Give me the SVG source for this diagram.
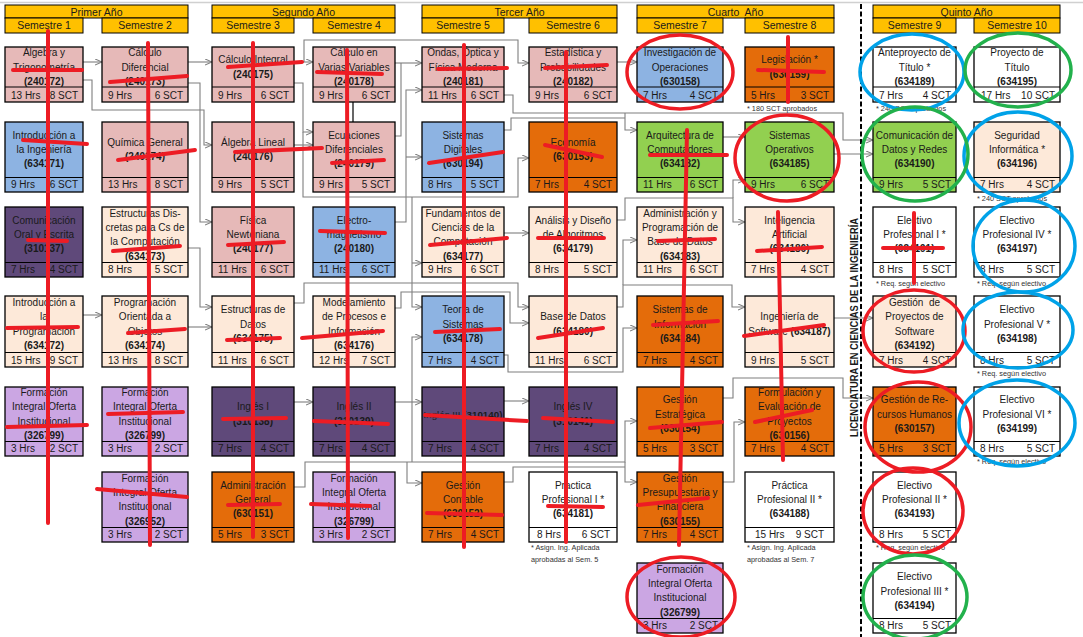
<svg xmlns="http://www.w3.org/2000/svg" width="1083" height="637" viewBox="0 0 1083 637">
<style>
.bx{stroke:#000;stroke-width:1.3}
.pk{fill:#E6B9B8}.bl{fill:#8DB3E2}.dp{fill:#5F497A}.pe{fill:#FDE9D9}.li{fill:#CBA6E3}.or{fill:#E46C0A}.gr{fill:#92D050}.wh{fill:#FFFFFF}
.sp{stroke:#000;stroke-width:1.1}
text{font-family:"Liberation Sans",Arial,sans-serif;fill:#1a1a1a}
.t{font-size:10px;text-anchor:middle}
.k{font-weight:bold}
.f{font-size:10px}
.r{text-anchor:end}
.n{font-size:7.3px;fill:#333}
.h{font-size:10.5px;text-anchor:middle}
.hd{fill:#FFC000;stroke:#000;stroke-width:1}
.c{fill:none;stroke:#7F7F7F;stroke-width:1.1}
.rs{fill:none;stroke:#ED1C24;stroke-width:4;stroke-linecap:round}
.er{fill:none;stroke:#ED1C24;stroke-width:3.5}
.eb{fill:none;stroke:#00A2E8;stroke-width:3.5}
.eg{fill:none;stroke:#22B14C;stroke-width:3.5}
</style>
<defs>
<marker id="ar" viewBox="0 0 8 8" refX="8" refY="4" markerWidth="7" markerHeight="7" markerUnits="userSpaceOnUse" orient="auto"><path d="M0,0.5 L8,4 L0,7.5" fill="none" stroke="#7F7F7F" stroke-width="1.2"/></marker>
</defs>
<rect x="0" y="0" width="1083" height="637" fill="#fff"/>
<line x1="0" y1="2.5" x2="1083" y2="2.5" stroke="#d0d0d0" stroke-width="1.5"/>

<g id="headers">
<rect class="hd" x="5" y="5" width="183" height="13"/><text class="h" x="96.5" y="15.5">Primer Año</text>
<rect class="hd" x="5" y="18" width="78" height="15"/><text class="h" x="44" y="29.3">Semestre 1</text>
<rect class="hd" x="102" y="18" width="86" height="15"/><text class="h" x="145" y="29.3">Semestre 2</text>
<rect class="hd" x="212" y="5" width="183" height="13"/><text class="h" x="303.5" y="15.5">Segundo Año</text>
<rect class="hd" x="212" y="18" width="82" height="15"/><text class="h" x="253" y="29.3">Semestre 3</text>
<rect class="hd" x="313" y="18" width="82" height="15"/><text class="h" x="354" y="29.3">Semestre 4</text>
<rect class="hd" x="422" y="5" width="195" height="13"/><text class="h" x="519.5" y="15.5">Tercer Año</text>
<rect class="hd" x="422" y="18" width="82" height="15"/><text class="h" x="463" y="29.3">Semestre 5</text>
<rect class="hd" x="529" y="18" width="88" height="15"/><text class="h" x="573" y="29.3">Semestre 6</text>
<rect class="hd" x="637" y="5" width="197" height="13"/><text class="h" x="735.5" y="15.5" xml:space="preserve">Cuarto  Año</text>
<rect class="hd" x="637" y="18" width="86" height="15"/><text class="h" x="680" y="29.3">Semestre 7</text>
<rect class="hd" x="745" y="18" width="89" height="15"/><text class="h" x="789.5" y="29.3">Semestre 8</text>
<rect class="hd" x="873" y="5" width="187" height="13"/><text class="h" x="966.5" y="15.5">Quinto Año</text>
<rect class="hd" x="873" y="18" width="83" height="15"/><text class="h" x="914.5" y="29.3">Semestre 9</text>
<rect class="hd" x="974" y="18" width="86" height="15"/><text class="h" x="1017" y="29.3">Semestre 10</text>
</g>

<g id="connectors">
<path class="c" marker-end="url(#ar)" d="M83,62 H102"/>
<path class="c" marker-end="url(#ar)" d="M83,80 H92 V110 H204 V145 H212"/>
<path class="c" marker-end="url(#ar)" d="M188,62 H212"/>
<path class="c" marker-end="url(#ar)" d="M188,83 H200 V222 H212"/>
<path class="c" marker-end="url(#ar)" d="M188,248 H200 V307 H212"/>
<path class="c" marker-end="url(#ar)" d="M188,327 H212"/>
<path class="c" marker-end="url(#ar)" d="M83,315 H102"/>
<path class="c" marker-end="url(#ar)" d="M294,62 H313"/>
<path class="c" marker-end="url(#ar)" d="M304,62 V40 H518 V63 H529"/>
<path class="c" marker-end="url(#ar)" d="M294,83 H303 V132 H313"/>
<path class="c" marker-end="url(#ar)" d="M294,145 H313"/>
<path class="c" marker-end="url(#ar)" d="M303,132 V197 H518 V158 H529"/>
<path class="c" marker-end="url(#ar)" d="M412,197 V307 H422"/>
<path class="c" marker-end="url(#ar)" d="M412,263 H422"/>
<path class="c" marker-end="url(#ar)" d="M395,63 H422"/>
<path class="c" d="M395,136 H401 V63"/>
<path class="c" marker-end="url(#ar)" d="M395,222 H406 V90 H422"/>
<path class="c" marker-end="url(#ar)" d="M406,157 H422"/>
<path class="c" marker-end="url(#ar)" d="M294,303 H304 V283 H518 V307 H529"/>
<path class="c" marker-end="url(#ar)" d="M395,308 H401 V292 H510 V323 H529"/>
<path class="c" marker-end="url(#ar)" d="M294,402 H313"/>
<path class="c" marker-end="url(#ar)" d="M395,402 H422"/>
<path class="c" marker-end="url(#ar)" d="M504,401 H529"/>
<path class="c" marker-end="url(#ar)" d="M294,487 H305 V462 H625 V421 H637"/>
<path class="c" marker-end="url(#ar)" d="M407,462 V483 H422"/>
<path class="c" marker-end="url(#ar)" d="M412,462 V337 H422"/>
<path class="c" marker-end="url(#ar)" d="M625,462 V482 H637"/>
<path class="c" d="M504,482 H513 V467 H625"/>
<path class="c" marker-end="url(#ar)" d="M504,233 H529"/>
<path class="c" marker-end="url(#ar)" d="M504,95 H513 V113 H843 V140 H873"/>
<path class="c" marker-end="url(#ar)" d="M625,113 V130 H637"/>
<path class="c" d="M504,130 H511 V118 H625"/>
<path class="c" marker-end="url(#ar)" d="M617,62 H637"/>
<path class="c" marker-end="url(#ar)" d="M617,220 H625 V198 H733 V222 H745"/>
<path class="c" marker-end="url(#ar)" d="M733,198 V180 H745"/>
<path class="c" marker-end="url(#ar)" d="M723,137 H745"/>
<path class="c" marker-end="url(#ar)" d="M617,307 H623 V285 H732 V307 H745"/>
<path class="c" marker-end="url(#ar)" d="M623,285 V240 H637"/>
<path class="c" marker-end="url(#ar)" d="M504,355 H508 V372 H623 V328 H637"/>
<path class="c" marker-end="url(#ar)" d="M834,318 H873"/>
<path class="c" marker-end="url(#ar)" d="M723,398 H733 V378 H843 V398 H873"/>
<path class="c" marker-end="url(#ar)" d="M723,482 H734 V422 H745"/>
<path class="c" marker-end="url(#ar)" d="M834,154 H873"/>
<path d="M353,102 V122" stroke="#000" stroke-width="1.2"/>
</g>

<!-- Semestre 1 -->
<g id="n-240172"><rect class="bx pk" x="5" y="47" width="78" height="55"/><line class="sp" x1="5" y1="87" x2="83" y2="87"/><text class="t"><tspan x="44" y="56.3">Álgebra y</tspan><tspan x="44" y="70.6">Trigonometría</tspan><tspan x="44" y="84.9" class="k">(240172)</tspan></text><text class="f" x="11" y="98.6">13 Hrs</text><text class="f r" x="78" y="98.6">8 SCT</text></g>
<g id="n-634171"><rect class="bx bl" x="5" y="122" width="78" height="70"/><line class="sp" x1="5" y1="177.5" x2="83" y2="177.5"/><text class="t"><tspan x="44" y="138.8">Introducción a</tspan><tspan x="44" y="153.1">la Ingeniería</tspan><tspan x="44" y="167.4" class="k">(634171)</tspan></text><text class="f" x="11" y="188.3">9 Hrs</text><text class="f r" x="78" y="188.3">6 SCT</text></g>
<g id="n-310137"><rect class="bx dp" x="5" y="207" width="78" height="70"/><line class="sp" x1="5" y1="262.5" x2="83" y2="262.5"/><text class="t"><tspan x="44" y="223.8">Comunicación</tspan><tspan x="44" y="238.1">Oral y Escrita</tspan><tspan x="44" y="252.4" class="k">(310137)</tspan></text><text class="f" x="11" y="273.3">7 Hrs</text><text class="f r" x="78" y="273.3">4 SCT</text></g>
<g id="n-634172"><rect class="bx pe" x="5" y="296" width="78" height="71"/><line class="sp" x1="5" y1="352.5" x2="83" y2="352.5"/><text class="t"><tspan x="44" y="306.15">Introducción a</tspan><tspan x="44" y="320.45">la</tspan><tspan x="44" y="334.75">Programación</tspan><tspan x="44" y="349.05" class="k">(634172)</tspan></text><text class="f" x="11" y="363.6">15 Hrs</text><text class="f r" x="78" y="363.6">9 SCT</text></g>
<g id="n-326799-s1"><rect class="bx li" x="5" y="387" width="78" height="69"/><line class="sp" x1="5" y1="441.5" x2="83" y2="441.5"/><text class="t"><tspan x="44" y="396.15">Formación</tspan><tspan x="44" y="410.45">Integral Oferta</tspan><tspan x="44" y="424.75">Institucional</tspan><tspan x="44" y="439.05" class="k">(326799)</tspan></text><text class="f" x="11" y="452.3">3 Hrs</text><text class="f r" x="78" y="452.3">2 SCT</text></g>

<!-- Semestre 2 -->
<g id="n-240173"><rect class="bx pk" x="102" y="47" width="86" height="55"/><line class="sp" x1="102" y1="87" x2="188" y2="87"/><text class="t"><tspan x="145" y="56.3">Cálculo</tspan><tspan x="145" y="70.6">Diferencial</tspan><tspan x="145" y="84.9" class="k">(240173)</tspan></text><text class="f" x="108" y="98.6">9 Hrs</text><text class="f r" x="183" y="98.6">6 SCT</text></g>
<g id="n-240174"><rect class="bx pk" x="102" y="122" width="86" height="70"/><line class="sp" x1="102" y1="177.5" x2="188" y2="177.5"/><text class="t"><tspan x="145" y="145.95">Química General</tspan><tspan x="145" y="160.25" class="k">(240174)</tspan></text><text class="f" x="108" y="188.3">13 Hrs</text><text class="f r" x="183" y="188.3">8 SCT</text></g>
<g id="n-634173"><rect class="bx pe" x="102" y="207" width="86" height="70"/><line class="sp" x1="102" y1="262.5" x2="188" y2="262.5"/><text class="t"><tspan x="145" y="216.65">Estructuras Dis-</tspan><tspan x="145" y="230.95">cretas para Cs de</tspan><tspan x="145" y="245.25">la Computación</tspan><tspan x="145" y="259.55" class="k">(634173)</tspan></text><text class="f" x="108" y="273.3">8 Hrs</text><text class="f r" x="183" y="273.3">5 SCT</text></g>
<g id="n-634174"><rect class="bx pe" x="102" y="296" width="86" height="71"/><line class="sp" x1="102" y1="352.5" x2="188" y2="352.5"/><text class="t"><tspan x="145" y="306.15">Programación</tspan><tspan x="145" y="320.45">Orientada a</tspan><tspan x="145" y="334.75">Objetos</tspan><tspan x="145" y="349.05" class="k">(634174)</tspan></text><text class="f" x="108" y="363.6">13 Hrs</text><text class="f r" x="183" y="363.6">8 SCT</text></g>
<g id="n-326799-s2"><rect class="bx li" x="102" y="387" width="86" height="69"/><line class="sp" x1="102" y1="441.5" x2="188" y2="441.5"/><text class="t"><tspan x="145" y="396.15">Formación</tspan><tspan x="145" y="410.45">Integral Oferta</tspan><tspan x="145" y="424.75">Institucional</tspan><tspan x="145" y="439.05" class="k">(326799)</tspan></text><text class="f" x="108" y="452.3">3 Hrs</text><text class="f r" x="183" y="452.3">2 SCT</text></g>
<g id="n-326952"><rect class="bx li" x="102" y="472" width="86" height="70"/><line class="sp" x1="102" y1="527.5" x2="188" y2="527.5"/><text class="t"><tspan x="145" y="481.65">Formación</tspan><tspan x="145" y="495.95">Integral Oferta</tspan><tspan x="145" y="510.25">Institucional</tspan><tspan x="145" y="524.55" class="k">(326952)</tspan></text><text class="f" x="108" y="538.3">3 Hrs</text><text class="f r" x="183" y="538.3">2 SCT</text></g>

<!-- Semestre 3 -->
<g id="n-240175"><rect class="bx pk" x="212" y="47" width="82" height="55"/><line class="sp" x1="212" y1="87" x2="294" y2="87"/><text class="t"><tspan x="253" y="63.45">Cálculo Integral</tspan><tspan x="253" y="77.75" class="k">(240175)</tspan></text><text class="f" x="218" y="98.6">9 Hrs</text><text class="f r" x="289" y="98.6">6 SCT</text></g>
<g id="n-240176"><rect class="bx pk" x="212" y="122" width="82" height="70"/><line class="sp" x1="212" y1="177.5" x2="294" y2="177.5"/><text class="t"><tspan x="253" y="145.95">Álgebra Lineal</tspan><tspan x="253" y="160.25" class="k">(240176)</tspan></text><text class="f" x="218" y="188.3">9 Hrs</text><text class="f r" x="289" y="188.3">5 SCT</text></g>
<g id="n-240177"><rect class="bx pk" x="212" y="207" width="82" height="70"/><line class="sp" x1="212" y1="262.5" x2="294" y2="262.5"/><text class="t"><tspan x="253" y="223.8">Física</tspan><tspan x="253" y="238.1">Newtoniana</tspan><tspan x="253" y="252.4" class="k">(240177)</tspan></text><text class="f" x="218" y="273.3">11 Hrs</text><text class="f r" x="289" y="273.3">6 SCT</text></g>
<g id="n-634175"><rect class="bx pe" x="212" y="296" width="82" height="71"/><line class="sp" x1="212" y1="352.5" x2="294" y2="352.5"/><text class="t"><tspan x="253" y="313.3">Estructuras de</tspan><tspan x="253" y="327.6">Datos</tspan><tspan x="253" y="341.9" class="k">(634175)</tspan></text><text class="f" x="218" y="363.6">11 Hrs</text><text class="f r" x="289" y="363.6">6 SCT</text></g>
<g id="n-310138"><rect class="bx dp" x="212" y="387" width="82" height="69"/><line class="sp" x1="212" y1="441.5" x2="294" y2="441.5"/><text class="t"><tspan x="253" y="410.45">Inglés I</tspan><tspan x="253" y="424.75" class="k">(310138)</tspan></text><text class="f" x="218" y="452.3">7 Hrs</text><text class="f r" x="289" y="452.3">4 SCT</text></g>
<g id="n-630151"><rect class="bx or" x="212" y="472" width="82" height="70"/><line class="sp" x1="212" y1="527.5" x2="294" y2="527.5"/><text class="t"><tspan x="253" y="488.8">Administración</tspan><tspan x="253" y="503.1">General</tspan><tspan x="253" y="517.4" class="k">(630151)</tspan></text><text class="f" x="218" y="538.3">5 Hrs</text><text class="f r" x="289" y="538.3">3 SCT</text></g>

<!-- Semestre 4 -->
<g id="n-240178"><rect class="bx pk" x="313" y="47" width="82" height="55"/><line class="sp" x1="313" y1="87" x2="395" y2="87"/><text class="t"><tspan x="354" y="56.3">Cálculo en</tspan><tspan x="354" y="70.6">Varias Variables</tspan><tspan x="354" y="84.9" class="k">(240178)</tspan></text><text class="f" x="319" y="98.6">9 Hrs</text><text class="f r" x="390" y="98.6">6 SCT</text></g>
<g id="n-240179"><rect class="bx pk" x="313" y="122" width="82" height="70"/><line class="sp" x1="313" y1="177.5" x2="395" y2="177.5"/><text class="t"><tspan x="354" y="138.8">Ecuaciones</tspan><tspan x="354" y="153.1">Diferenciales</tspan><tspan x="354" y="167.4" class="k">(240179)</tspan></text><text class="f" x="319" y="188.3">9 Hrs</text><text class="f r" x="390" y="188.3">5 SCT</text></g>
<g id="n-240180"><rect class="bx bl" x="313" y="207" width="82" height="70"/><line class="sp" x1="313" y1="262.5" x2="395" y2="262.5"/><text class="t"><tspan x="354" y="223.8">Electro-</tspan><tspan x="354" y="238.1">magnetismo</tspan><tspan x="354" y="252.4" class="k">(240180)</tspan></text><text class="f" x="319" y="273.3">11 Hrs</text><text class="f r" x="390" y="273.3">6 SCT</text></g>
<g id="n-634176"><rect class="bx pe" x="313" y="296" width="82" height="71"/><line class="sp" x1="313" y1="352.5" x2="395" y2="352.5"/><text class="t"><tspan x="354" y="306.15">Modelamiento</tspan><tspan x="354" y="320.45">de Procesos e</tspan><tspan x="354" y="334.75">Información</tspan><tspan x="354" y="349.05" class="k">(634176)</tspan></text><text class="f" x="319" y="363.6">12 Hrs</text><text class="f r" x="390" y="363.6">7 SCT</text></g>
<g id="n-310139"><rect class="bx dp" x="313" y="387" width="82" height="69"/><line class="sp" x1="313" y1="441.5" x2="395" y2="441.5"/><text class="t"><tspan x="354" y="410.45">Inglés II</tspan><tspan x="354" y="424.75" class="k">(310139)</tspan></text><text class="f" x="319" y="452.3">7 Hrs</text><text class="f r" x="390" y="452.3">4 SCT</text></g>
<g id="n-326799-s4"><rect class="bx li" x="313" y="472" width="82" height="70"/><line class="sp" x1="313" y1="527.5" x2="395" y2="527.5"/><text class="t"><tspan x="354" y="481.65">Formación</tspan><tspan x="354" y="495.95">Integral Oferta</tspan><tspan x="354" y="510.25">Institucional</tspan><tspan x="354" y="524.55" class="k">(326799)</tspan></text><text class="f" x="319" y="538.3">3 Hrs</text><text class="f r" x="390" y="538.3">2 SCT</text></g>

<!-- Semestre 5 -->
<g id="n-240181"><rect class="bx pk" x="422" y="47" width="82" height="55"/><line class="sp" x1="422" y1="87" x2="504" y2="87"/><text class="t"><tspan x="463" y="56.3">Ondas, Óptica y</tspan><tspan x="463" y="70.6">Física Moderna</tspan><tspan x="463" y="84.9" class="k">(240181)</tspan></text><text class="f" x="428" y="98.6">11 Hrs</text><text class="f r" x="499" y="98.6">6 SCT</text></g>
<g id="n-630194"><rect class="bx bl" x="422" y="122" width="82" height="70"/><line class="sp" x1="422" y1="177.5" x2="504" y2="177.5"/><text class="t"><tspan x="463" y="138.8">Sistemas</tspan><tspan x="463" y="153.1">Digitales</tspan><tspan x="463" y="167.4" class="k">(630194)</tspan></text><text class="f" x="428" y="188.3">8 Hrs</text><text class="f r" x="499" y="188.3">5 SCT</text></g>
<g id="n-634177"><rect class="bx pe" x="422" y="207" width="82" height="70"/><line class="sp" x1="422" y1="262.5" x2="504" y2="262.5"/><text class="t"><tspan x="463" y="216.65">Fundamentos de</tspan><tspan x="463" y="230.95">Ciencias de la</tspan><tspan x="463" y="245.25">Computación</tspan><tspan x="463" y="259.55" class="k">(634177)</tspan></text><text class="f" x="428" y="273.3">9 Hrs</text><text class="f r" x="499" y="273.3">6 SCT</text></g>
<g id="n-634178"><rect class="bx bl" x="422" y="296" width="82" height="71"/><line class="sp" x1="422" y1="352.5" x2="504" y2="352.5"/><text class="t"><tspan x="463" y="313.3">Teoría de</tspan><tspan x="463" y="327.6">Sistemas</tspan><tspan x="463" y="341.9" class="k">(634178)</tspan></text><text class="f" x="428" y="363.6">7 Hrs</text><text class="f r" x="499" y="363.6">4 SCT</text></g>
<g id="n-310140"><rect class="bx dp" x="422" y="387" width="82" height="69"/><line class="sp" x1="422" y1="441.5" x2="504" y2="441.5"/><text class="t" x="463" y="417.6" style="font-size:9.8px">Inglés III <tspan class="k">(310140)</tspan></text><text class="f" x="428" y="452.3">7 Hrs</text><text class="f r" x="499" y="452.3">4 SCT</text></g>
<g id="n-630152"><rect class="bx or" x="422" y="472" width="82" height="70"/><line class="sp" x1="422" y1="527.5" x2="504" y2="527.5"/><text class="t"><tspan x="463" y="488.8">Gestión</tspan><tspan x="463" y="503.1">Contable</tspan><tspan x="463" y="517.4" class="k">(630152)</tspan></text><text class="f" x="428" y="538.3">7 Hrs</text><text class="f r" x="499" y="538.3">4 SCT</text></g>

<!-- Semestre 6 -->
<g id="n-240182"><rect class="bx pk" x="529" y="47" width="88" height="55"/><line class="sp" x1="529" y1="87" x2="617" y2="87"/><text class="t"><tspan x="573" y="56.3">Estadística y</tspan><tspan x="573" y="70.6">Probabilidades</tspan><tspan x="573" y="84.9" class="k">(240182)</tspan></text><text class="f" x="535" y="98.6">9 Hrs</text><text class="f r" x="612" y="98.6">6 SCT</text></g>
<g id="n-630153"><rect class="bx or" x="529" y="122" width="88" height="70"/><line class="sp" x1="529" y1="177.5" x2="617" y2="177.5"/><text class="t"><tspan x="573" y="145.95">Economía</tspan><tspan x="573" y="160.25" class="k">(630153)</tspan></text><text class="f" x="535" y="188.3">7 Hrs</text><text class="f r" x="612" y="188.3">4 SCT</text></g>
<g id="n-634179"><rect class="bx pe" x="529" y="207" width="88" height="70"/><line class="sp" x1="529" y1="262.5" x2="617" y2="262.5"/><text class="t"><tspan x="573" y="223.8">Análisis y Diseño</tspan><tspan x="573" y="238.1">de Algoritmos</tspan><tspan x="573" y="252.4" class="k">(634179)</tspan></text><text class="f" x="535" y="273.3">8 Hrs</text><text class="f r" x="612" y="273.3">5 SCT</text></g>
<g id="n-634180"><rect class="bx pe" x="529" y="296" width="88" height="71"/><line class="sp" x1="529" y1="352.5" x2="617" y2="352.5"/><text class="t"><tspan x="573" y="320.45">Base de Datos</tspan><tspan x="573" y="334.75" class="k">(634180)</tspan></text><text class="f" x="535" y="363.6">11 Hrs</text><text class="f r" x="612" y="363.6">6 SCT</text></g>
<g id="n-310141"><rect class="bx dp" x="529" y="387" width="88" height="69"/><line class="sp" x1="529" y1="441.5" x2="617" y2="441.5"/><text class="t"><tspan x="573" y="410.45">Inglés IV</tspan><tspan x="573" y="424.75" class="k">(310141)</tspan></text><text class="f" x="535" y="452.3">7 Hrs</text><text class="f r" x="612" y="452.3">4 SCT</text></g>
<g id="n-634181"><rect class="bx wh" x="529" y="472" width="88" height="70"/><line class="sp" x1="529" y1="527.5" x2="617" y2="527.5"/><text class="t"><tspan x="573" y="488.8">Practica</tspan><tspan x="573" y="503.1">Profesional I *</tspan><tspan x="573" y="517.4" class="k">(634181)</tspan></text><text class="f" x="537" y="538.3">8 Hrs</text><text class="f r" x="610" y="538.3">6 SCT</text><text class="n" x="531" y="549.8">* Asign. Ing. Aplicada</text><text class="n" x="531" y="562">aprobadas al Sem. 5</text></g>

<!-- Semestre 7 -->
<g id="n-630158"><rect class="bx bl" x="637" y="47" width="86" height="55"/><line class="sp" x1="637" y1="87" x2="723" y2="87"/><text class="t"><tspan x="680" y="56.3">Investigación de</tspan><tspan x="680" y="70.6">Operaciones</tspan><tspan x="680" y="84.9" class="k">(630158)</tspan></text><text class="f" x="643" y="98.6">7 Hrs</text><text class="f r" x="718" y="98.6">4 SCT</text></g>
<g id="n-634182"><rect class="bx gr" x="637" y="122" width="86" height="70"/><line class="sp" x1="637" y1="177.5" x2="723" y2="177.5"/><text class="t"><tspan x="680" y="138.8">Arquitectura de</tspan><tspan x="680" y="153.1">Computadores</tspan><tspan x="680" y="167.4" class="k">(634182)</tspan></text><text class="f" x="643" y="188.3">11 Hrs</text><text class="f r" x="718" y="188.3">6 SCT</text></g>
<g id="n-634183"><rect class="bx pe" x="637" y="207" width="86" height="70"/><line class="sp" x1="637" y1="262.5" x2="723" y2="262.5"/><text class="t"><tspan x="680" y="216.65">Administración y</tspan><tspan x="680" y="230.95">Programación de</tspan><tspan x="680" y="245.25">Base de Datos</tspan><tspan x="680" y="259.55" class="k">(634183)</tspan></text><text class="f" x="643" y="273.3">11 Hrs</text><text class="f r" x="718" y="273.3">6 SCT</text></g>
<g id="n-634184"><rect class="bx or" x="637" y="296" width="86" height="71"/><line class="sp" x1="637" y1="352.5" x2="723" y2="352.5"/><text class="t"><tspan x="680" y="313.3">Sistemas de</tspan><tspan x="680" y="327.6">Información</tspan><tspan x="680" y="341.9" class="k">(634184)</tspan></text><text class="f" x="643" y="363.6">7 Hrs</text><text class="f r" x="718" y="363.6">4 SCT</text></g>
<g id="n-630154"><rect class="bx or" x="637" y="387" width="86" height="69"/><line class="sp" x1="637" y1="441.5" x2="723" y2="441.5"/><text class="t"><tspan x="680" y="403.3">Gestión</tspan><tspan x="680" y="417.6">Estratégica</tspan><tspan x="680" y="431.9" class="k">(630154)</tspan></text><text class="f" x="643" y="452.3">5 Hrs</text><text class="f r" x="718" y="452.3">3 SCT</text></g>
<g id="n-630155"><rect class="bx or" x="637" y="472" width="86" height="70"/><line class="sp" x1="637" y1="527.5" x2="723" y2="527.5"/><text class="t"><tspan x="680" y="481.65">Gestión</tspan><tspan x="680" y="495.95">Presupuestaria y</tspan><tspan x="680" y="510.25">Financiera</tspan><tspan x="680" y="524.55" class="k">(630155)</tspan></text><text class="f" x="643" y="538.3">7 Hrs</text><text class="f r" x="718" y="538.3">4 SCT</text></g>
<g id="n-326799-s7"><rect class="bx li" x="637" y="563" width="86" height="70"/><line class="sp" x1="637" y1="618.5" x2="723" y2="618.5"/><text class="t"><tspan x="680" y="572.65">Formación</tspan><tspan x="680" y="586.95">Integral Oferta</tspan><tspan x="680" y="601.25">Institucional</tspan><tspan x="680" y="615.55" class="k">(326799)</tspan></text><text class="f" x="643" y="629.3">3 Hrs</text><text class="f r" x="718" y="629.3">2 SCT</text></g>

<!-- Semestre 8 -->
<g id="n-630159"><rect class="bx or" x="745" y="47" width="89" height="55"/><line class="sp" x1="745" y1="87" x2="834" y2="87"/><text class="t"><tspan x="789.5" y="63.45">Legislación *</tspan><tspan x="789.5" y="77.75" class="k">(630159)</tspan></text><text class="f" x="751" y="98.6">5 Hrs</text><text class="f r" x="829" y="98.6">3 SCT</text><text class="n" x="747" y="110.6">* 180 SCT aprobados</text></g>
<g id="n-634185"><rect class="bx gr" x="745" y="122" width="89" height="70"/><line class="sp" x1="745" y1="177.5" x2="834" y2="177.5"/><text class="t"><tspan x="789.5" y="138.8">Sistemas</tspan><tspan x="789.5" y="153.1">Operativos</tspan><tspan x="789.5" y="167.4" class="k">(634185)</tspan></text><text class="f" x="751" y="188.3">9 Hrs</text><text class="f r" x="829" y="188.3">6 SCT</text></g>
<g id="n-634186"><rect class="bx pe" x="745" y="207" width="89" height="70"/><line class="sp" x1="745" y1="262.5" x2="834" y2="262.5"/><text class="t"><tspan x="789.5" y="223.8">Inteligencia</tspan><tspan x="789.5" y="238.1">Artificial</tspan><tspan x="789.5" y="252.4" class="k">(634186)</tspan></text><text class="f" x="751" y="273.3">7 Hrs</text><text class="f r" x="829" y="273.3">4 SCT</text></g>
<g id="n-634187"><rect class="bx pe" x="745" y="296" width="89" height="71"/><line class="sp" x1="745" y1="352.5" x2="834" y2="352.5"/><text class="t"><tspan x="789.5" y="320.45">Ingeniería de</tspan><tspan x="789.5" y="334.75">Software <tspan class="k">(634187)</tspan></tspan></text><text class="f" x="751" y="363.6">9 Hrs</text><text class="f r" x="829" y="363.6">5 SCT</text></g>
<g id="n-630156"><rect class="bx or" x="745" y="387" width="89" height="69"/><line class="sp" x1="745" y1="441.5" x2="834" y2="441.5"/><text class="t"><tspan x="789.5" y="396.15">Formulación y</tspan><tspan x="789.5" y="410.45">Evaluación de</tspan><tspan x="789.5" y="424.75">Proyectos</tspan><tspan x="789.5" y="439.05" class="k">(630156)</tspan></text><text class="f" x="751" y="452.3">7 Hrs</text><text class="f r" x="829" y="452.3">4 SCT</text></g>
<g id="n-634188"><rect class="bx wh" x="745" y="472" width="89" height="70"/><line class="sp" x1="745" y1="527.5" x2="834" y2="527.5"/><text class="t"><tspan x="789.5" y="488.8">Práctica</tspan><tspan x="789.5" y="503.1">Profesional II *</tspan><tspan x="789.5" y="517.4" class="k">(634188)</tspan></text><text class="f" x="755" y="538.3">15 Hrs</text><text class="f r" x="824" y="538.3">9 SCT</text><text class="n" x="747" y="549.8">* Asign. Ing. Aplicada</text><text class="n" x="747" y="562">aprobadas al Sem. 7</text></g>

<!-- Semestre 9 -->
<g id="n-634189"><rect class="bx wh" x="873" y="47" width="83" height="55"/><line class="sp" x1="873" y1="87" x2="956" y2="87"/><text class="t"><tspan x="914.5" y="56.3">Anteproyecto de</tspan><tspan x="914.5" y="70.6">Título *</tspan><tspan x="914.5" y="84.9" class="k">(634189)</tspan></text><text class="f" x="879" y="98.6">7 Hrs</text><text class="f r" x="951" y="98.6">4 SCT</text><text class="n" x="876" y="110.6">* 240 SCT aprobados</text></g>
<g id="n-634190"><rect class="bx gr" x="873" y="122" width="83" height="70"/><line class="sp" x1="873" y1="177.5" x2="956" y2="177.5"/><text class="t"><tspan x="914.5" y="138.8">Comunicación de</tspan><tspan x="914.5" y="153.1">Datos y Redes</tspan><tspan x="914.5" y="167.4" class="k">(634190)</tspan></text><text class="f" x="879" y="188.3">9 Hrs</text><text class="f r" x="951" y="188.3">5 SCT</text></g>
<g id="n-634191"><rect class="bx wh" x="873" y="207" width="83" height="70"/><line class="sp" x1="873" y1="262.5" x2="956" y2="262.5"/><text class="t"><tspan x="914.5" y="223.8">Electivo</tspan><tspan x="914.5" y="238.1">Profesional I *</tspan><tspan x="914.5" y="252.4" class="k">(634191)</tspan></text><text class="f" x="879" y="273.3">8 Hrs</text><text class="f r" x="951" y="273.3">5 SCT</text><text class="n" x="876" y="285.6">* Req. según electivo</text></g>
<g id="n-634192"><rect class="bx pe" x="873" y="296" width="83" height="71"/><line class="sp" x1="873" y1="352.5" x2="956" y2="352.5"/><text class="t"><tspan x="914.5" y="306.15" xml:space="preserve">Gestión  de</tspan><tspan x="914.5" y="320.45">Proyectos de</tspan><tspan x="914.5" y="334.75">Software</tspan><tspan x="914.5" y="349.05" class="k">(634192)</tspan></text><text class="f" x="879" y="363.6">7 Hrs</text><text class="f r" x="951" y="363.6">4 SCT</text></g>
<g id="n-630157"><rect class="bx or" x="873" y="387" width="83" height="69"/><line class="sp" x1="873" y1="441.5" x2="956" y2="441.5"/><text class="t"><tspan x="914.5" y="403.3">Gestión de Re-</tspan><tspan x="914.5" y="417.6">cursos Humanos</tspan><tspan x="914.5" y="431.9" class="k">(630157)</tspan></text><text class="f" x="879" y="452.3">5 Hrs</text><text class="f r" x="951" y="452.3">3 SCT</text></g>
<g id="n-634193"><rect class="bx wh" x="873" y="472" width="83" height="70"/><line class="sp" x1="873" y1="527.5" x2="956" y2="527.5"/><text class="t"><tspan x="914.5" y="488.8">Electivo</tspan><tspan x="914.5" y="503.1">Profesional II *</tspan><tspan x="914.5" y="517.4" class="k">(634193)</tspan></text><text class="f" x="879" y="538.3">8 Hrs</text><text class="f r" x="951" y="538.3">5 SCT</text><text class="n" x="876" y="549.8">* Req. según electivo</text></g>
<g id="n-634194"><rect class="bx wh" x="873" y="563" width="83" height="70"/><line class="sp" x1="873" y1="618.5" x2="956" y2="618.5"/><text class="t"><tspan x="914.5" y="580.3">Electivo</tspan><tspan x="914.5" y="594.6">Profesional III *</tspan><tspan x="914.5" y="608.9" class="k">(634194)</tspan></text><text class="f" x="879" y="629.3">8 Hrs</text><text class="f r" x="951" y="629.3">5 SCT</text></g>

<!-- Semestre 10 -->
<g id="n-634195"><rect class="bx wh" x="974" y="47" width="86" height="55"/><line class="sp" x1="974" y1="87" x2="1060" y2="87"/><text class="t"><tspan x="1017" y="56.3">Proyecto de</tspan><tspan x="1017" y="70.6">Título</tspan><tspan x="1017" y="84.9" class="k">(634195)</tspan></text><text class="f" x="981" y="98.6">17 Hrs</text><text class="f r" x="1055" y="98.6">10 SCT</text></g>
<g id="n-634196"><rect class="bx pe" x="974" y="122" width="86" height="70"/><line class="sp" x1="974" y1="177.5" x2="1060" y2="177.5"/><text class="t"><tspan x="1017" y="138.8">Seguridad</tspan><tspan x="1017" y="153.1">Informática *</tspan><tspan x="1017" y="167.4" class="k">(634196)</tspan></text><text class="f" x="980" y="188.3">7 Hrs</text><text class="f r" x="1055" y="188.3">4 SCT</text><text class="n" x="977" y="200.6">* 240 SCT aprobados</text></g>
<g id="n-634197"><rect class="bx wh" x="974" y="207" width="86" height="70"/><line class="sp" x1="974" y1="262.5" x2="1060" y2="262.5"/><text class="t"><tspan x="1017" y="223.8">Electivo</tspan><tspan x="1017" y="238.1">Profesional IV *</tspan><tspan x="1017" y="252.4" class="k">(634197)</tspan></text><text class="f" x="980" y="273.3">8 Hrs</text><text class="f r" x="1055" y="273.3">5 SCT</text><text class="n" x="977" y="285.6">* Req. según electivo</text></g>
<g id="n-634198"><rect class="bx wh" x="974" y="296" width="86" height="71"/><line class="sp" x1="974" y1="352.5" x2="1060" y2="352.5"/><text class="t"><tspan x="1017" y="313.3">Electivo</tspan><tspan x="1017" y="327.6">Profesional V *</tspan><tspan x="1017" y="341.9" class="k">(634198)</tspan></text><text class="f" x="980" y="363.6">8 Hrs</text><text class="f r" x="1055" y="363.6">5 SCT</text><text class="n" x="977" y="375.6">* Req. según electivo</text></g>
<g id="n-634199"><rect class="bx wh" x="974" y="387" width="86" height="69"/><line class="sp" x1="974" y1="441.5" x2="1060" y2="441.5"/><text class="t"><tspan x="1017" y="403.3">Electivo</tspan><tspan x="1017" y="417.6">Profesional VI *</tspan><tspan x="1017" y="431.9" class="k">(634199)</tspan></text><text class="f" x="980" y="452.3">8 Hrs</text><text class="f r" x="1055" y="452.3">5 SCT</text><text class="n" x="977" y="463.6">* Req. según electivo</text></g>

<g id="divider">
<line x1="861" y1="4" x2="861" y2="637" stroke="#000" stroke-width="2" stroke-dasharray="5,2.5"/>
<text transform="translate(858,327.5) rotate(-90)" text-anchor="middle" font-size="10.5" font-weight="bold" textLength="219" lengthAdjust="spacingAndGlyphs">LICENCIATURA EN CIENCIAS DE LA INGENIERÍA</text>
</g>

<g id="marks">
<path class="rs" d="M48,31 L48,523"/>
<path class="rs" d="M148,43 L150,545"/>
<path class="rs" d="M253,43 L253,537"/>
<path class="rs" d="M347,50 L348,538"/>
<path class="rs" d="M464,45 L464,547"/>
<path class="rs" d="M566,52 L566,542"/>
<path class="rs" d="M687,130 L679,545"/>
<path class="rs" d="M788,37 L788,102"/>
<path class="rs" d="M778,212 L783,460"/>
<path class="rs" d="M914,213 L914,283"/>
<path class="rs" d="M13,70 L82,70"/>
<path class="rs" d="M23,140 L87,144"/>
<path class="rs" d="M28,240 L67,241"/>
<path class="rs" d="M7,328 L78,327"/>
<path class="rs" d="M7,427 L87,425"/>
<path class="rs" d="M110,82 L187,76"/>
<path class="rs" d="M118,160 L195,150"/>
<path class="rs" d="M113,251 L180,246"/>
<path class="rs" d="M128,333 L185,329"/>
<path class="rs" d="M108,414 L183,412"/>
<path class="rs" d="M97,489 L187,497"/>
<path class="rs" d="M228,67 L302,62"/>
<path class="rs" d="M235,152 L322,148"/>
<path class="rs" d="M228,245 L284,242"/>
<path class="rs" d="M227,340 L280,338"/>
<path class="rs" d="M223,419 L286,418"/>
<path class="rs" d="M228,505 L280,504"/>
<path class="rs" d="M317,72 L382,74"/>
<path class="rs" d="M332,163 L384,160"/>
<path class="rs" d="M320,231 L385,233"/>
<path class="rs" d="M302,338 L383,331"/>
<path class="rs" d="M314,421 L388,424"/>
<path class="rs" d="M311,504 L370,506"/>
<path class="rs" d="M438,69 L507,68"/>
<path class="rs" d="M429,163 L503,152"/>
<path class="rs" d="M430,245 L507,238"/>
<path class="rs" d="M435,332 L500,329"/>
<path class="rs" d="M425,415 L527,421"/>
<path class="rs" d="M427,513 L502,515"/>
<path class="rs" d="M545,68 L607,65"/>
<path class="rs" d="M545,145 L602,157"/>
<path class="rs" d="M538,238 L604,238"/>
<path class="rs" d="M538,338 L603,328"/>
<path class="rs" d="M543,418 L613,422"/>
<path class="rs" d="M548,506 L603,507"/>
<path class="rs" d="M650,155 L727,155"/>
<path class="rs" d="M658,241 L715,239"/>
<path class="rs" d="M653,325 L718,321"/>
<path class="rs" d="M650,428 L722,422"/>
<path class="rs" d="M638,505 L708,498"/>
<path class="rs" d="M758,70 L824,72"/>
<path class="rs" d="M757,251 L822,247"/>
<path class="rs" d="M744,336 L824,325"/>
<path class="rs" d="M755,422 L812,410"/>
<path class="rs" d="M883,248 L943,248"/>
<ellipse class="er" cx="680" cy="72" rx="53" ry="37"/>
<ellipse class="er" cx="787" cy="158" rx="52" ry="43"/>
<ellipse class="er" cx="681" cy="597" rx="54" ry="40"/>
<ellipse class="er" cx="914" cy="331" rx="51" ry="41"/>
<ellipse class="er" cx="918" cy="427" rx="53" ry="45"/>
<ellipse class="er" cx="913" cy="511" rx="50" ry="43"/>
<ellipse class="eb" cx="912" cy="72" rx="52" ry="38"/>
<ellipse class="eb" cx="1018" cy="156" rx="54" ry="44"/>
<ellipse class="eb" cx="1024" cy="246" rx="51" ry="46"/>
<ellipse class="eb" cx="1018" cy="330" rx="55" ry="38"/>
<ellipse class="eb" cx="1017" cy="423" rx="58" ry="43"/>
<ellipse class="eg" cx="1018" cy="70" rx="53" ry="37"/>
<ellipse class="eg" cx="915" cy="154" rx="53" ry="47"/>
<ellipse class="eg" cx="915" cy="597" rx="52" ry="42"/>
</g>
</svg>
